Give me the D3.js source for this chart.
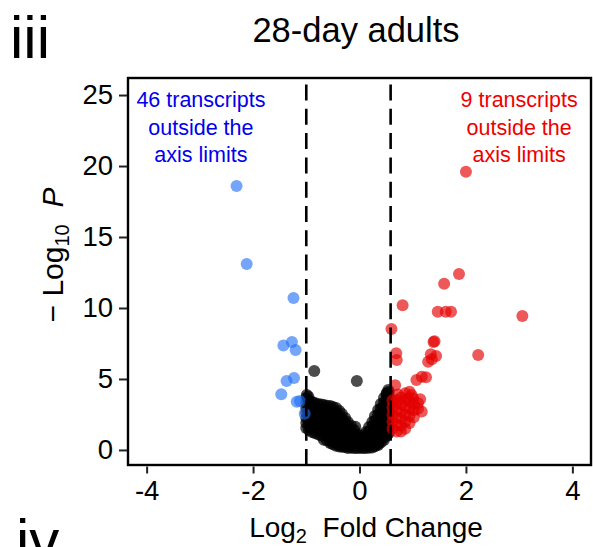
<!DOCTYPE html>
<html>
<head>
<meta charset="utf-8">
<script src="https://cdn.jsdelivr.net/npm/d3@7/dist/d3.min.js"></script>
<style>
  html, body { margin: 0; padding: 0; background: #fff; }
  svg { display: block; font-family: "Liberation Sans", Arial, Helvetica, sans-serif; }
</style>
</head>
<body>
<svg id="chart" width="593" height="547"></svg>
<script>
// ---- data ----
const title = "28-day adults";
const panelLabel = "iii";
const nextPanelLabel = "iv";
const xTicks = [-4, -2, 0, 2, 4];
const yTicks = [0, 5, 10, 15, 20, 25];
const fcCutDown = -1;
const fcCutUp = 0.585;
const downNote = ["46 transcripts", "outside the", "axis limits"];
const upNote = ["9 transcripts", "outside the", "axis limits"];

// significantly down-regulated (blue): [log2FC, -log10 P]
const downPts = [
  [-2.31, 18.6], [-2.12, 13.1], [-1.24, 10.7], [-1.43, 7.35], [-1.27, 7.6],
  [-1.20, 7.04], [-1.37, 4.86], [-1.23, 5.07], [-1.47, 3.92], [-1.18, 3.40],
  [-1.12, 3.45], [-1.03, 2.55]
];

// significantly up-regulated (red)
const upPts = [
  [2.00, 19.6], [1.87, 12.4], [1.59, 11.7], [0.81, 10.2], [1.47, 9.74],
  [1.62, 9.74], [1.72, 9.74], [3.06, 9.44], [0.60, 8.52], [1.39, 7.6],
  [1.41, 7.65], [1.34, 6.74], [1.29, 6.22], [1.44, 6.62], [1.36, 6.39],
  [2.23, 6.69], [0.69, 6.81], [0.70, 6.34], [1.07, 4.93], [1.17, 5.16],
  [1.25, 5.12], [0.67, 4.55], [0.98, 3.87], [1.01, 3.64], [1.14, 3.57],
  [1.17, 2.70], [0.92, 3.64], [0.70, 3.52],
  [0.62, 1.5], [0.62, 2.0], [0.62, 2.5], [0.62, 3.0], [0.62, 3.5],
  [0.70, 1.3], [0.70, 1.8], [0.70, 2.3], [0.70, 2.8], [0.70, 3.3], [0.72, 3.9],
  [0.78, 1.3], [0.78, 1.7], [0.78, 2.2], [0.78, 2.7], [0.78, 3.2], [0.78, 3.7],
  [0.86, 1.5], [0.86, 2.0], [0.86, 2.5], [0.86, 3.0], [0.86, 3.5], [0.86, 4.0],
  [0.94, 1.9], [0.94, 2.4], [0.94, 2.9], [0.94, 3.4], [0.94, 4.1],
  [1.02, 2.3], [1.02, 2.8], [1.02, 3.2], [1.10, 2.9], [1.10, 3.3]
];

// not significant (black)
const nsPts = [
  [-0.85, 5.56], [-0.05, 4.86], [-0.08, 1.64], [-0.96, 3.75], [-0.99, 3.87],
  [0.51, 4.0], [0.54, 4.23],
  [-1.00, 3.66], [-1.00, 3.30], [-1.00, 2.95], [-1.00, 2.60], [-1.00, 2.25], [-1.00, 1.90], [-1.00, 1.55],
  [-0.89, 3.38], [-0.89, 3.02], [-0.89, 2.66], [-0.89, 2.30], [-0.89, 1.95], [-0.89, 1.60], [-0.89, 1.27],
  [-0.78, 3.24], [-0.78, 2.88], [-0.78, 2.52], [-0.78, 2.16], [-0.78, 1.80], [-0.78, 1.44], [-0.78, 1.10],
  [-0.67, 3.17], [-0.67, 2.82], [-0.67, 2.47], [-0.67, 2.12], [-0.67, 1.77], [-0.67, 1.42], [-0.67, 1.07], [-0.67, 0.72],
  [-0.55, 3.10], [-0.55, 2.75], [-0.55, 2.40], [-0.55, 2.05], [-0.55, 1.70], [-0.55, 1.35], [-0.55, 1.00], [-0.55, 0.65], [-0.55, 0.49],
  [-0.44, 2.96], [-0.44, 2.62], [-0.44, 2.28], [-0.44, 1.94], [-0.44, 1.60], [-0.44, 1.26], [-0.44, 0.92], [-0.44, 0.58], [-0.44, 0.30],
  [-0.33, 2.54], [-0.33, 2.20], [-0.33, 1.86], [-0.33, 1.52], [-0.33, 1.18], [-0.33, 0.84], [-0.33, 0.50], [-0.33, 0.22],
  [-0.22, 1.97], [-0.22, 1.65], [-0.22, 1.33], [-0.22, 1.01], [-0.22, 0.69], [-0.22, 0.40], [-0.22, 0.14],
  [-0.10, 1.41], [-0.10, 1.10], [-0.10, 0.78], [-0.10, 0.46], [-0.10, 0.14],
  [0.01, 0.85], [0.01, 0.50], [0.01, 0.14],
  [0.12, 1.27], [0.12, 0.95], [0.12, 0.62], [0.12, 0.30], [0.12, 0.14],
  [0.24, 1.97], [0.24, 1.65], [0.24, 1.33], [0.24, 1.01], [0.24, 0.69], [0.24, 0.37], [0.24, 0.18],
  [0.35, 2.82], [0.35, 2.48], [0.35, 2.14], [0.35, 1.80], [0.35, 1.46], [0.35, 1.12], [0.35, 0.78], [0.35, 0.44], [0.35, 0.35],
  [0.46, 3.66], [0.46, 3.31], [0.46, 2.96], [0.46, 2.61], [0.46, 2.26], [0.46, 1.91], [0.46, 1.56], [0.46, 1.21], [0.46, 0.86], [0.46, 0.70],
  [0.55, 4.08], [0.55, 3.72], [0.55, 3.36], [0.55, 3.00], [0.55, 2.64], [0.55, 2.28], [0.55, 1.92], [0.55, 1.56], [0.55, 1.20],
  [-0.95, 3.48], [-0.95, 3.12], [-0.95, 2.77], [-0.95, 2.42], [-0.95, 2.07], [-0.95, 1.72], [-0.95, 1.40],
  [-0.84, 3.30], [-0.84, 2.95], [-0.84, 2.60], [-0.84, 2.24], [-0.84, 1.88], [-0.84, 1.52], [-0.84, 1.20],
  [-0.72, 3.20], [-0.72, 2.85], [-0.72, 2.50], [-0.72, 2.14], [-0.72, 1.78], [-0.72, 1.40], [-0.72, 1.00],
  [-0.61, 3.12], [-0.61, 2.78], [-0.61, 2.42], [-0.61, 2.08], [-0.61, 1.72], [-0.61, 1.38], [-0.61, 1.02], [-0.61, 0.66],
  [-0.50, 3.02], [-0.50, 2.68], [-0.50, 2.33], [-0.50, 1.98], [-0.50, 1.64], [-0.50, 1.30], [-0.50, 0.95], [-0.50, 0.60], [-0.50, 0.40],
  [-0.38, 2.75], [-0.38, 2.40], [-0.38, 2.06], [-0.38, 1.72], [-0.38, 1.38], [-0.38, 1.04], [-0.38, 0.70], [-0.38, 0.36], [-0.38, 0.25],
  [-0.27, 2.25], [-0.27, 1.92], [-0.27, 1.58], [-0.27, 1.24], [-0.27, 0.90], [-0.27, 0.56], [-0.27, 0.20],
  [-0.16, 1.70], [-0.16, 1.38], [-0.16, 1.06], [-0.16, 0.74], [-0.16, 0.42], [-0.16, 0.15],
  [-0.05, 1.10], [-0.05, 0.78], [-0.05, 0.46], [-0.05, 0.14],
  [0.07, 1.05], [0.07, 0.72], [0.07, 0.40], [0.07, 0.14],
  [0.18, 1.62], [0.18, 1.30], [0.18, 0.98], [0.18, 0.66], [0.18, 0.34], [0.18, 0.16],
  [0.29, 2.40], [0.29, 2.06], [0.29, 1.72], [0.29, 1.38], [0.29, 1.04], [0.29, 0.70], [0.29, 0.36], [0.29, 0.26],
  [0.40, 3.24], [0.40, 2.90], [0.40, 2.55], [0.40, 2.20], [0.40, 1.85], [0.40, 1.50], [0.40, 1.15], [0.40, 0.80], [0.40, 0.52],
  [0.51, 3.90], [0.51, 3.55], [0.51, 3.18], [0.51, 2.82], [0.51, 2.46], [0.51, 2.10], [0.51, 1.74], [0.51, 1.38], [0.51, 1.02]
];

// ---- drawing ----
const svg = d3.select("#chart");
const box = { left: 128, top: 78, right: 591, bottom: 465 };

const x = d3.scaleLinear().domain([-4.35, 4.35]).range([box.left, box.right]);
const y = d3.scaleLinear().domain([-1.06, 26.2]).range([box.bottom, box.top]);

const font = "'Liberation Sans', Arial, Helvetica, sans-serif";

// panel labels and title
svg.append("text").attr("x", 10).attr("y", 58)
  .attr("font-size", 60).attr("fill", "#000").text(panelLabel);
svg.append("text").attr("x", 16).attr("y", 561)
  .attr("font-size", 60).attr("fill", "#000").text(nextPanelLabel);
svg.append("text").attr("x", 356).attr("y", 42)
  .attr("text-anchor", "middle").attr("font-size", 34.5).attr("fill", "#000").text(title);

// points
const pts = svg.append("g");
pts.selectAll("circle.ns").data(nsPts).join("circle").attr("class", "ns")
  .attr("cx", d => x(d[0])).attr("cy", d => y(d[1])).attr("r", 6)
  .attr("fill", "#000").attr("fill-opacity", 0.7);
pts.selectAll("circle.dn").data(downPts).join("circle").attr("class", "dn")
  .attr("cx", d => x(d[0])).attr("cy", d => y(d[1])).attr("r", 6)
  .attr("fill", "rgb(30,110,245)").attr("fill-opacity", 0.62);
pts.selectAll("circle.up").data(upPts).join("circle").attr("class", "up")
  .attr("cx", d => x(d[0])).attr("cy", d => y(d[1])).attr("r", 6)
  .attr("fill", "rgb(228,0,0)").attr("fill-opacity", 0.65);

// cut-off lines (dashes measured from the bottom)
[fcCutDown, fcCutUp].forEach(v => {
  svg.append("line")
    .attr("x1", x(v)).attr("x2", x(v))
    .attr("y1", y(y.domain()[0])).attr("y2", y(y.domain()[1]))
    .attr("stroke", "#000").attr("stroke-width", 2.6)
    .attr("stroke-dasharray", "16,8.3");
});

// annotations
function note(lines, xv, color) {
  const t = svg.append("text").attr("text-anchor", "middle")
    .attr("font-size", 21.5).attr("fill", color);
  lines.forEach((s, i) => {
    t.append("tspan").attr("x", x(xv)).attr("y", box.top + 29 + i * 27.5).text(s);
  });
}
note(downNote, -2.98, "#0000ee");
note(upNote, 3.0, "#ee0000");

// panel border
svg.append("rect")
  .attr("x", box.left).attr("y", box.top)
  .attr("width", box.right - box.left).attr("height", box.bottom - box.top)
  .attr("fill", "none").attr("stroke", "#000").attr("stroke-width", 2.4);

// axes
const yAxis = svg.append("g").attr("transform", `translate(${box.left - 1},0)`)
  .call(d3.axisLeft(y).tickValues(yTicks).tickSize(8).tickPadding(6));
const xAxis = svg.append("g").attr("transform", `translate(0,${box.bottom + 1.5})`)
  .call(d3.axisBottom(x).tickValues(xTicks).tickSize(7).tickPadding(7)
    .tickFormat(d => d < 0 ? "-" + Math.abs(d) : String(d)));
[yAxis, xAxis].forEach(g => {
  g.select(".domain").remove();
  g.selectAll(".tick line").attr("stroke", "#222").attr("stroke-width", 2);
  g.selectAll(".tick text").attr("font-family", font).attr("font-size", 27.5).attr("fill", "#000");
});

// axis titles
const xl = svg.append("text").attr("x", 366).attr("y", 537)
  .attr("text-anchor", "middle").attr("font-size", 28).attr("fill", "#000");
xl.append("tspan").text("Log");
xl.append("tspan").attr("font-size", 20).attr("dy", 6).text("2");
xl.append("tspan").attr("dy", -6).text("\u00a0 Fold Change");

const yl = svg.append("text").attr("transform", "translate(63,255) rotate(-90)")
  .attr("text-anchor", "middle").attr("font-size", 30).attr("fill", "#000");
yl.append("tspan").text("\u2212 Log");
yl.append("tspan").attr("font-size", 20).attr("dy", 6).text("10");
yl.append("tspan").attr("dy", -6).text("\u00a0\u00a0");
yl.append("tspan").attr("font-style", "italic").text("P");
</script>
</body>
</html>
